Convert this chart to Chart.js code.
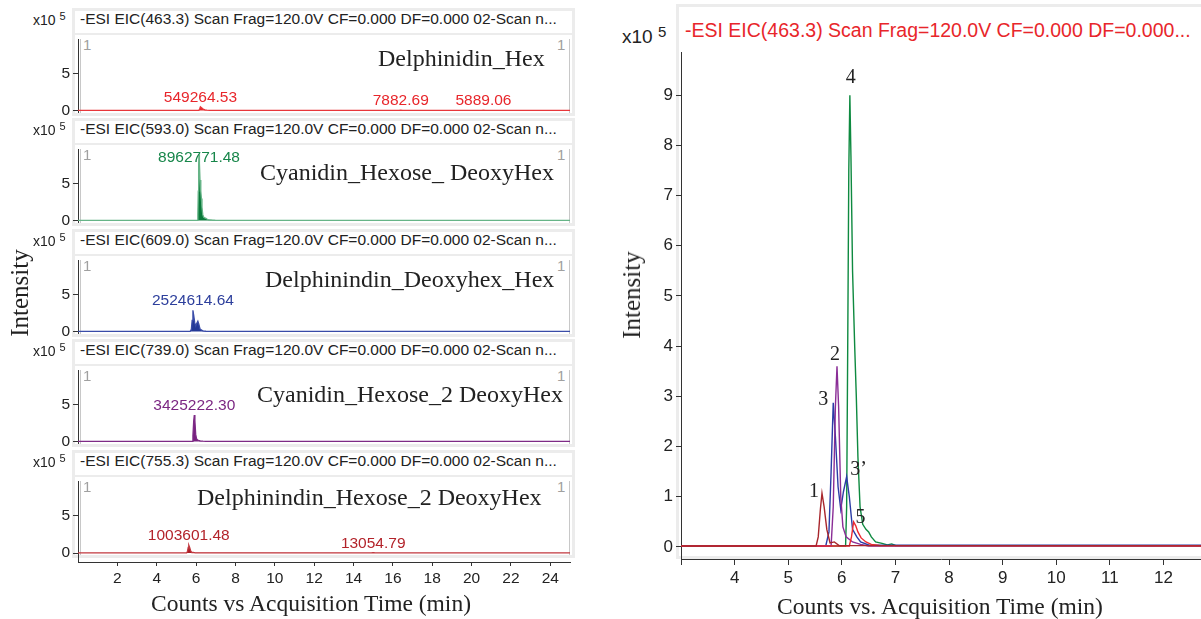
<!DOCTYPE html>
<html>
<head>
<meta charset="utf-8">
<title>EIC chromatograms</title>
<script src="https://cdn.jsdelivr.net/npm/chart.js@4.4.1/dist/chart.umd.min.js"></script>
<style>
  body { margin: 0; background: #fff; }
  #page { position: relative; width: 1201px; height: 619px; overflow: hidden;
          font-family: "Liberation Sans", Arial, sans-serif; color: #222; }
  .abs { position: absolute; white-space: nowrap; }
  .frame { position: absolute; background: #fff; border: 3px solid #ececec; box-sizing: border-box; }
  .serif { font-family: "Liberation Serif", "Times New Roman", serif; }
  canvas { position: absolute; }
</style>
</head>
<body>
<div id="page"></div>
<script>
// retention time (min) / intensity (x10^5 counts) for each extracted ion chromatogram
var t463 = [0, 6.14, 6.18, 6.22, 6.26, 6.30, 6.36, 6.45, 6.55, 6.70, 16.3, 16.4, 16.5, 20.5, 20.6, 20.7, 25];
var y463 = [0.02, 0.02, 0.20, 0.50, 0.42, 0.30, 0.18, 0.10, 0.05, 0.03, 0.02, 0.06, 0.02, 0.02, 0.05, 0.02, 0.02];

var t593 = [0, 6.07, 6.09, 6.11, 6.13, 6.15, 6.17, 6.20, 6.24, 6.27, 6.30, 6.34, 6.39, 6.45, 6.50, 6.55, 6.63, 6.75, 6.85, 6.93, 7.00, 25];
var y593 = [0.02, 0.02, 0.8, 4.0, 7.5, 9.0, 7.8, 5.5, 4.0, 3.0, 1.8, 0.8, 0.45, 0.35, 0.30, 0.20, 0.10, 0.07, 0.04, 0.06, 0.03, 0.02];

var t609 = [0, 5.70, 5.76, 5.80, 5.84, 5.88, 5.93, 5.98, 6.03, 6.09, 6.14, 6.20, 6.28, 6.35, 6.50, 25];
var y609 = [0.02, 0.02, 0.30, 1.50, 2.87, 2.20, 1.20, 0.75, 1.10, 1.40, 1.00, 0.35, 0.20, 0.10, 0.04, 0.02];

var t739 = [0, 5.80, 5.84, 5.88, 5.91, 5.94, 5.98, 6.02, 6.08, 6.20, 6.35, 6.50, 25];
var y739 = [0.02, 0.02, 0.80, 2.80, 3.60, 2.80, 1.00, 0.40, 0.20, 0.10, 0.05, 0.02, 0.02];

var t755 = [0, 5.52, 5.56, 5.60, 5.63, 5.67, 5.72, 5.78, 5.86, 5.95, 14.9, 15.0, 15.1, 25];
var y755 = [0.02, 0.02, 0.20, 0.75, 1.07, 0.80, 0.35, 0.08, 0.10, 0.03, 0.02, 0.07, 0.02, 0.02];

// left stack: one panel per ion
var panelHeaders = [
  '-ESI EIC(463.3) Scan Frag=120.0V CF=0.000 DF=0.000 02-Scan n...',
  '-ESI EIC(593.0) Scan Frag=120.0V CF=0.000 DF=0.000 02-Scan n...',
  '-ESI EIC(609.0) Scan Frag=120.0V CF=0.000 DF=0.000 02-Scan n...',
  '-ESI EIC(739.0) Scan Frag=120.0V CF=0.000 DF=0.000 02-Scan n...',
  '-ESI EIC(755.3) Scan Frag=120.0V CF=0.000 DF=0.000 02-Scan n...'
];
var panelNames = ['Delphinidin_Hex', 'Cyanidin_Hexose_ DeoxyHex', 'Delphinindin_Deoxyhex_Hex',
                  'Cyanidin_Hexose_2 DeoxyHex', 'Delphinindin_Hexose_2 DeoxyHex'];
var panelTimes = [t463, t593, t609, t739, t755];
var panelInts = [y463, y593, y609, y739, y755];
var peakTimes = [[6.22, 16.4, 20.6], [6.15], [5.84], [5.91], [5.63, 15.0]];
var peakAreas = [['549264.53', '7882.69', '5889.06'], ['8962771.48'], ['2524614.64'], ['3425222.30'],
                 ['1003601.48', '13054.79']];

var leftYTicks = [0, 5];
var leftXTicks = [2, 4, 6, 8, 10, 12, 14, 16, 18, 20, 22, 24];

// right overlay
var overlayTimes = [t755, t463, t739, t609, t593];
var overlayInts = [y755, y463, y739, y609, y593];
var peakNums = ['1', '2', '3', '3\u2019', '4', '5'];
var peakNumTimes = [5.63, 5.91, 5.84, 6.09, 6.15, 6.22];
var peakNumSeries = [0, 2, 3, 3, 4, 1];
var rightYTicks = [0, 1, 2, 3, 4, 5, 6, 7, 8, 9];
var rightXTicks = [3, 4, 5, 6, 7, 8, 9, 10, 11, 12];
var rightXLabels = ['', '4', '5', '6', '7', '8', '9', '10', '11', '12'];

Chart.defaults.font.family = '"Liberation Sans", Arial, sans-serif';
Chart.defaults.color = '#222';

var page = document.getElementById('page');
function el(tag, cls, css, text, html) {
  var d = document.createElement(tag);
  if (cls) d.className = cls;
  d.style.cssText = css;
  if (text != null) d.textContent = text;
  if (html != null) d.innerHTML = html;
  page.appendChild(d);
  return d;
}
function pts(ts, vs) {
  return ts.map(function (t, k) { return { x: t, y: vs[k] }; });
}

// labels above peaks, placed through the chart scales
var peakTags = {
  id: 'peakTags',
  afterDatasetsDraw: function (chart, args, o) {
    var ctx = chart.ctx, xs = chart.scales.x, ys = chart.scales.y, area = chart.chartArea;
    ctx.save();
    ctx.font = o.font;
    ctx.fillStyle = o.color;
    ctx.textAlign = 'center';
    ctx.textBaseline = o.baseline;
    o.times.forEach(function (t, k) {
      var d = chart.data.datasets[o.series ? o.series[k] : 0].data;
      var h = 0;
      d.forEach(function (p) { if (Math.abs(p.x - t) < 0.03 && p.y > h) h = p.y; });
      var off = o.offsets ? o.offsets[k] : [0, -5];
      var px = xs.getPixelForValue(t) + off[0];
      var py = Math.max(ys.getPixelForValue(h) + off[1], area.top + 13);
      ctx.fillText(o.texts[k], px, py);
    });
    ctx.restore();
  }
};

function yAxis(min, max, list, width, size, tl) {
  return {
    type: 'linear', min: min, max: max,
    afterBuildTicks: function (s) { s.ticks = list.map(function (v) { return { value: v }; }); },
    afterFit: function (s) { s.width = width; s.paddingTop = 0; s.paddingBottom = 0; },
    grid: { drawOnChartArea: false, tickLength: tl, color: '#333' },
    border: { color: '#333', width: 1 },
    ticks: { font: { size: size }, color: '#222', padding: 3 }
  };
}
function xAxis(min, max, list, labels, height, size, tl, show) {
  return {
    type: 'linear', min: min, max: max, display: show,
    afterBuildTicks: function (s) { s.ticks = list.map(function (v) { return { value: v }; }); },
    afterFit: function (s) { s.height = show ? height : 0; s.paddingLeft = 0; s.paddingRight = 0; },
    grid: { drawOnChartArea: false, tickLength: tl, color: '#333' },
    border: { color: '#333', width: 1 },
    ticks: { font: { size: size }, color: '#222', padding: 3, maxRotation: 0, autoSkip: false,
             callback: function (v, i) { return labels ? labels[i] : String(v); } }
  };
}

// ---------- left stacked panels ----------
var zeroY = [111, 221, 332, 442, 553];
var nameX = [378, 260, 265, 257, 197];
var nameDy = [-53, -49, -53, -48, -56];
var lineCol = ['#e8363a', '#66b487', '#3a4ca8', '#7e2a86', '#c2383f'];
var fillCol = ['#e8262b', '#0b7a3b', '#233896', '#76207e', '#a81e25'];
var tagCol = ['#e8262b', '#17864a', '#2d3f9c', '#7b2682', '#b3232a'];

for (var i = 0; i < 5; i++) {
  var y0 = zeroY[i];
  var last = i === 4;
  el('div', 'frame', 'left:72px;top:' + (y0 - 103) + 'px;width:503px;height:108px;');
  el('div', '', 'position:absolute;left:75px;top:' + (y0 - 78) + 'px;width:497px;height:2px;background:#ececec;');
  el('div', '', 'position:absolute;left:80px;top:' + (y0 - 72) + 'px;width:1px;height:74px;background:#c8c8c8;');
  el('div', '', 'position:absolute;left:569px;top:' + (y0 - 72) + 'px;width:1px;height:74px;background:#c8c8c8;');
  el('div', 'abs', 'left:80px;top:' + (y0 - 102) + 'px;font-size:15.5px;line-height:20px;', panelHeaders[i]);
  el('div', 'abs', 'left:33px;top:' + (y0 - 101) + 'px;font-size:14px;line-height:20px;', null,
     'x10 <span style="font-size:11px;position:relative;top:-5px">5</span>');
  el('div', 'abs', 'left:83px;top:' + (y0 - 75) + 'px;font-size:15px;line-height:18px;color:#a0a0a0;', '1');
  el('div', 'abs', 'left:557px;top:' + (y0 - 75) + 'px;font-size:15px;line-height:18px;color:#a0a0a0;', '1');

  var cv = el('canvas', '', 'left:0px;top:' + (y0 - 72) + 'px;');
  cv.width = 574;
  cv.height = last ? 109 : 81;
  new Chart(cv, {
    type: 'line',
    data: {
      datasets: [{
        data: pts(panelTimes[i], panelInts[i]),
        borderColor: lineCol[i], backgroundColor: fillCol[i], fill: 'origin',
        borderWidth: 1.3, pointRadius: 0, tension: 0
      }]
    },
    options: {
      responsive: false, animation: false, events: [],
      layout: { padding: { right: 4, bottom: last ? 0 : 8 } },
      plugins: {
        legend: { display: false }, tooltip: { enabled: false },
        peakTags: { times: peakTimes[i], texts: peakAreas[i], color: tagCol[i],
                    font: '15.5px "Liberation Sans", Arial, sans-serif', baseline: 'alphabetic' }
      },
      scales: {
        x: xAxis(0, 25, leftXTicks, null, 28, 15.5, 4, last),
        y: yAxis(last ? -1.2 : -0.2, 9.7, leftYTicks, 78, 15.5, 5)
      }
    },
    plugins: [peakTags]
  });

  el('div', 'abs serif', 'left:' + nameX[i] + 'px;top:' + (y0 + nameDy[i] - 14) + 'px;font-size:24px;line-height:28px;color:#222;', panelNames[i]);
}

el('div', 'abs serif', 'left:311px;top:590px;transform:translateX(-50%);font-size:23.5px;line-height:26px;', 'Counts vs Acquisition Time (min)');
el('div', 'abs serif', 'left:20px;top:293px;transform:translate(-50%,-50%) rotate(-90deg);font-size:25px;line-height:28px;', 'Intensity');

// ---------- right overlay ----------
el('div', 'frame', 'left:676px;top:4px;width:530px;height:555px;');
el('div', 'abs', 'left:685px;top:18px;font-size:19.5px;line-height:24px;color:#e8262b;',
   '-ESI EIC(463.3) Scan Frag=120.0V CF=0.000 DF=0.000...');
el('div', 'abs', 'left:622px;top:25px;font-size:19px;line-height:24px;', null,
   'x10 <span style="font-size:15px;position:relative;top:-6px">5</span>');

var overlayCol = ['#a8262c', '#ec2a30', '#8a2d96', '#2b3ca6', '#0e8a40'];
var rc = el('canvas', '', 'left:600px;top:52px;');
rc.width = 601;
rc.height = 547;
new Chart(rc, {
  type: 'line',
  data: {
    datasets: overlayTimes.map(function (ts, k) {
      return { data: pts(ts, overlayInts[k]), borderColor: overlayCol[k], fill: false,
               borderWidth: 1.4, pointRadius: 0, tension: 0 };
    })
  },
  options: {
    responsive: false, animation: false, events: [],
    layout: { padding: 0 },
    plugins: {
      legend: { display: false }, tooltip: { enabled: false },
      peakTags: { times: peakNumTimes, texts: peakNums, series: peakNumSeries, color: '#222',
                  font: '20px "Liberation Serif", "Times New Roman", serif', baseline: 'middle',
                  offsets: [[-8, -1], [-2, -11], [-10, -3], [12, -7], [1, -17], [7, -4]] }
    },
    scales: {
      x: xAxis(3, 12.7, rightXTicks, rightXLabels, 40, 17, 6, true),
      y: yAxis(-0.24, 9.86, rightYTicks, 81, 17, 5)
    }
  },
  plugins: [peakTags]
});

el('div', 'abs serif', 'left:940px;top:593px;transform:translateX(-50%);font-size:23.5px;line-height:26px;', 'Counts vs. Acquisition Time (min)');
el('div', 'abs serif', 'left:632px;top:295px;transform:translate(-50%,-50%) rotate(-90deg);font-size:25px;line-height:28px;', 'Intensity');
</script>
</body>
</html>
